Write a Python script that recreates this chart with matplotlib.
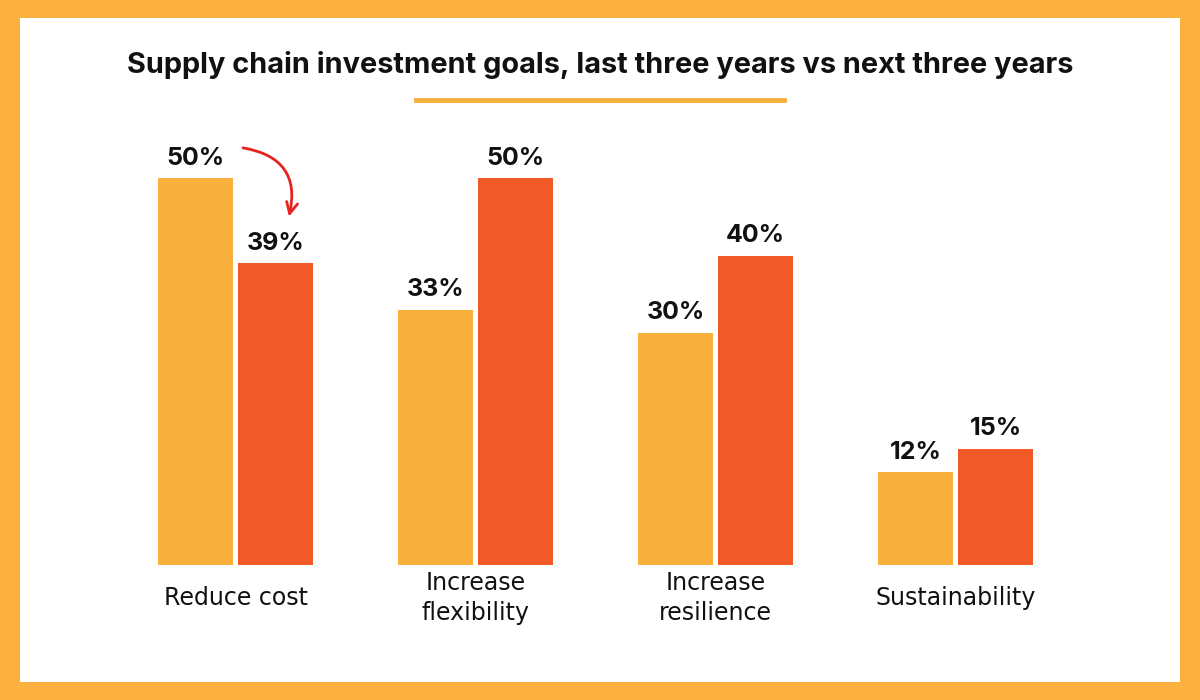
import numpy as np
import matplotlib.pyplot as plt
from matplotlib.patches import Rectangle

# Data
categories = ['Reduce cost', 'Increase\nflexibility', 'Increase\nresilience', 'Sustainability']
last_three = [50, 33, 30, 12]
next_three = [39, 50, 40, 15]

c_last = '#F9B03D'
c_next = '#F05A28'
c_border = '#FBB040'

W, H = 1200, 700
fig = plt.figure(figsize=(W / 100, H / 100), dpi=100)
fig.patch.set_facecolor(c_border)
fig.patches.append(Rectangle((20 / W, 18 / H), 1160 / W, 664 / H, transform=fig.transFigure,
                             facecolor='white', edgecolor='none', zorder=-5))

# Title and underline
fig.text(0.5, 1 - 65 / H, 'Supply chain investment goals, last three years vs next three years',
         ha='center', va='center', fontsize=20.8, fontweight='bold', family='Inter', color='#111111')
fig.add_artist(plt.Line2D([416 / W, 784 / W], [1 - 100 / H, 1 - 100 / H], transform=fig.transFigure,
                          color=c_last, lw=3.5))

# Bars
ax = fig.add_axes([115.5 / W, 135 / H, 960 / W, 464 / H])
ax.set_facecolor('none')
ax.set_zorder(2)
x = np.arange(len(categories))
bw = 75 / 240
off = 40 / 240
b1 = ax.bar(x - off, last_three, bw, color=c_last)
b2 = ax.bar(x + off, next_three, bw, color=c_next)
ax.set_xlim(-0.5, 3.5)
ax.set_ylim(0, 60)
ax.axis('off')

for bars, vals in ((b1, last_three), (b2, next_three)):
    for b, v in zip(bars, vals):
        ax.text(b.get_x() + b.get_width() / 2, v + 1.1, f'{v}%', ha='center', va='bottom',
                fontsize=18, fontweight='bold', family='Inter', color='#111111')

for xi, cat in zip(x, categories):
    ax.text(xi, -4.3, cat, ha='center', va='center', fontsize=17, family='DejaVu Sans',
            color='#111111', linespacing=1.3)

# Curved arrow from 50% to 39%
ax.annotate('', xy=(0.22, next_three[0] + 5.7), xytext=(0.02, last_three[0] + 4.0),
            arrowprops=dict(arrowstyle='->,head_length=0.8,head_width=0.4', color='#E52421', lw=2.0,
                            connectionstyle='arc3,rad=-0.55'))

fig.savefig('out.png', dpi=100, facecolor=fig.get_facecolor())
